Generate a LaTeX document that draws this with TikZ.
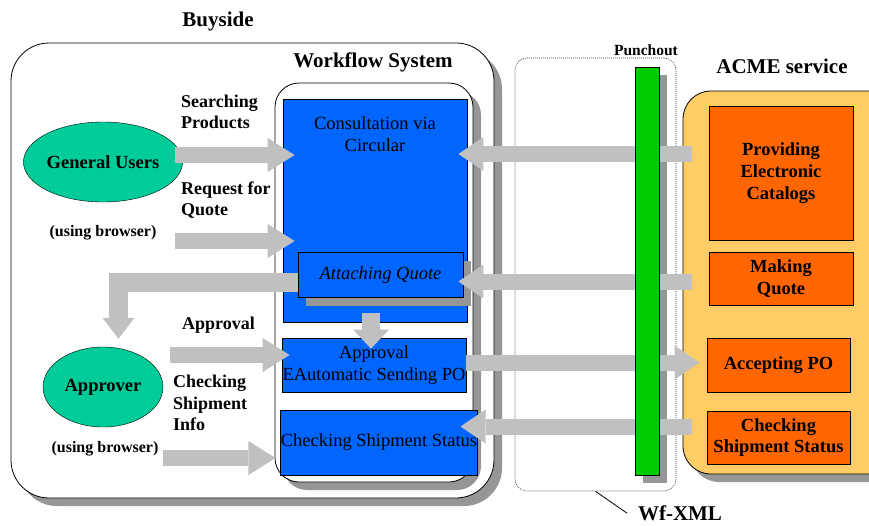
\documentclass[tikz,border=0pt]{standalone}
\usepackage{fontspec}
\setmainfont{Liberation Serif}
\usetikzlibrary{arrows.meta, positioning, shapes.geometric, shadows}
\definecolor{wfblue}{RGB}{0,102,255}
\definecolor{actorgreen}{RGB}{0,204,153}
\definecolor{acmeorange}{RGB}{255,102,0}
\definecolor{acmeyellow}{RGB}{255,204,102}
\definecolor{punchgreen}{RGB}{0,204,0}
\definecolor{arrowgray}{RGB}{192,192,192}
\definecolor{shadowgray}{RGB}{150,150,150}

\begin{document}
\begin{tikzpicture}[x=1pt, y=-1pt,
  title/.style={font=\fontsize{21}{24}\selectfont\bfseries, inner sep=0pt},
  lbl/.style={font=\fontsize{18}{21.7}\selectfont\bfseries, align=left, inner sep=0pt},
  note/.style={font=\fontsize{16}{19}\selectfont\bfseries, inner sep=0pt},
  shade8/.style={drop shadow={shadow xshift=8pt, shadow yshift=-8pt, fill=shadowgray, opacity=1}},
  area/.style={draw, fill=white, line width=0.8pt},
  task/.style={draw, fill=wfblue, line width=0.8pt, align=center, inner sep=0pt,
    font=\fontsize{18.5}{21.7}\selectfont},
  svc/.style={draw, fill=acmeorange, line width=0.8pt, align=center, inner sep=0pt,
    font=\fontsize{18.5}{21.7}\selectfont\bfseries},
  actor/.style={draw, ellipse, fill=actorgreen, minimum width=120pt, minimum height=80pt,
    inner sep=0pt, font=\fontsize{18.5}{21.7}\selectfont\bfseries},
  blk/.style={draw=arrowgray, line width=16pt, -{Triangle[length=27pt, width=34pt, line width=0pt]}},
  blkr/.style={blk, -{Triangle[length=25pt, width=34pt, line width=0pt]}}]
\useasboundingbox (0,0) rectangle (869,525);

% buyside and workflow system
\node[area, shade8, rounded corners=38pt, minimum width=483pt, minimum height=455pt] (buy) at (252.5,270.5) {};
\node[title] (buytitle) at (218,21) {Buyside};
\node[area, shade8, rounded corners=24pt, minimum width=198pt, minimum height=399pt] (wf) at (374,282.5) {};
\node[title] (wftitle) at (373,62) {Workflow System};

% punchout and ACME service
\node[draw=black!75, line width=0.6pt, dash pattern=on 1pt off 1pt, rounded corners=12pt,
  minimum width=161pt, minimum height=433pt] (punch) at (595.5,274.5) {};
\node[title, font=\fontsize{15.5}{18}\selectfont\bfseries] (punchtitle) at (646,50) {Punchout};
\node[draw, fill=acmeyellow, shade8, line width=0.8pt, rounded corners=28pt,
  minimum width=217pt, minimum height=383pt] (acme) at (791.5,282.5) {};
\node[title] (acmetitle) at (782,66) {ACME service};

% workflow tasks
\node[task, minimum width=184pt, minimum height=223pt] (consult) at (375,210.5) {};
\node[task, draw=none, fill=none, below=18pt of consult.north] (consulttxt) {Consultation via\\Circular};
\node[task, shade8, minimum width=165pt, minimum height=45pt,
  font=\fontsize{18.5}{21.7}\selectfont\itshape] (attach) at (380.5,275) {Attaching Quote};
\node[task, minimum width=184pt, minimum height=54pt] (approve) at (374,365) {Approval\\EAutomatic Sending PO};
\node[task, minimum width=192pt, minimum height=65pt] (check) at (379,442.5) {Checking Shipment Status};

% ACME tasks
\node[svc, minimum width=144pt, minimum height=134pt] (provide) at (781,173) {Providing\\Electronic\\Catalogs};
\node[svc, minimum width=144pt, minimum height=53pt] (quote) at (781,278.5) {Making\\Quote};
\node[svc, minimum width=143pt, minimum height=54pt] (accept) at (778.5,365) {Accepting PO};
\node[svc, minimum width=143pt, minimum height=53pt] (shipstat) at (778.5,437.5) {Checking\\Shipment Status};

% actors and labels
\node[actor] (users) at (103,162) {General Users};
\node[actor] (approver) at (103,387) {Approver};
\node[lbl, anchor=west] (searchlbl) at (181,112) {Searching\\Products};
\node[lbl, anchor=west] (rfqlbl) at (181,200) {Request for\\Quote};
\node[note] (browser1) at (103,233) {(using browser)};
\node[lbl, anchor=west] (approvelbl) at (182,325) {Approval};
\node[lbl, anchor=west] (shiplbl) at (173,403) {Checking\\Shipment\\Info};
\node[note] (browser2) at (105,449) {(using browser)};

% shadow of the punchout bar
\fill[shadowgray] (643,75) rectangle (667,483);

% block arrows
\coordinate (srch) at (175,155);
\coordinate (rfq) at (175,241);
\coordinate (turn) at (118.5,282.5);
\coordinate (dn) at (371,313);
\coordinate (apv) at (170,355);
\coordinate (shp) at (163,458);
\draw[blk] (srch) -- ([xshift=12pt]consult.west |- srch);
\draw[blk] (rfq) -- ([xshift=12pt]consult.west |- rfq);
\draw[blk, line width=19pt, -{Triangle[length=21pt, width=32pt, line width=0pt]}]
  ([yshift=-7.5pt]attach.west) -- (turn) -- ([xshift=15.5pt, yshift=8pt]approver.north);
\draw[blk, line width=18pt, -{Triangle[length=19pt, width=36pt, line width=0pt]}]
  (dn) -- ([yshift=-11pt]approve.north -| dn);
\draw[blk] (apv) -- ([xshift=8pt]approve.west |- apv);
\draw[blk] (shp) -- ([xshift=-5pt]check.west |- shp);

\coordinate (cat) at (692,154);
\coordinate (mq) at (692,281.5);
\coordinate (po) at (466,362.5);
\coordinate (st) at (692,426.5);
\draw[blkr] (cat) -- ([xshift=-9pt]consult.east |- cat);
\draw[blkr] (mq) -- ([xshift=-5pt]attach.east |- mq);
\draw[blkr] (po) -- ([xshift=-7pt]accept.west |- po);
\draw[blkr] (st) -- ([xshift=-17pt]check.east |- st);

% punchout bar and Wf-XML
\node[draw, fill=punchgreen, line width=0.8pt, minimum width=24pt, minimum height=408pt, inner sep=0pt] (punchbar) at (647,271) {};
\node[title] (wfxml) at (680,513) {Wf-XML};
\draw[line width=0.8pt] (punch.south) -- ([xshift=-11pt]wfxml.west);
\end{tikzpicture}
\end{document}
